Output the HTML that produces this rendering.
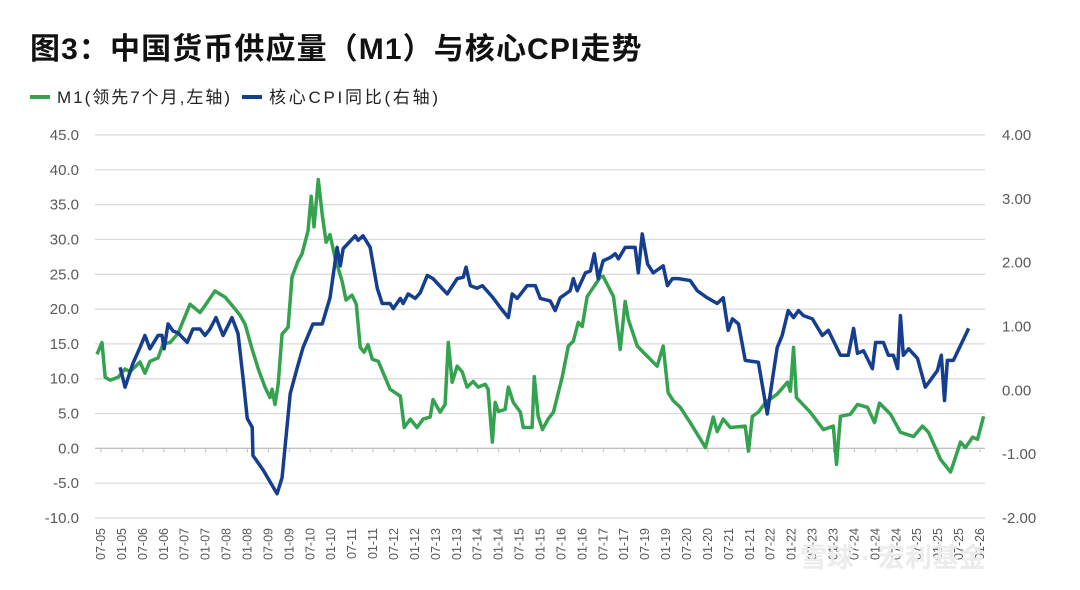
<!DOCTYPE html>
<html><head><meta charset="utf-8"><style>
body{margin:0;background:#fff;width:1080px;height:590px;overflow:hidden;font-family:"Liberation Sans","Noto Sans CJK SC",sans-serif}
#title{position:absolute;left:30px;top:24px;font-size:30px;font-weight:bold;color:#111;letter-spacing:1.1px}
svg{position:absolute;left:0;top:0}
</style></head><body>
<div id="title">图3：中国货币供应量（M1）与核心CPI走势</div>
<svg id="chart" width="1080" height="590"></svg>
<script>
const xLabels=["07-05","01-05","07-06","01-06","07-07","01-07","07-08","01-08","07-09","01-09","07-10","01-10","07-11","01-11","07-12","01-12","07-13","01-13","07-14","01-14","07-15","01-15","07-16","01-16","07-17","01-17","07-19","01-19","07-20","01-20","07-21","01-21","07-22","01-22","07-23","01-23","07-24","01-24","07-24","07-25","01-25","07-25","01-26"];
const leftTicks=[45,40,35,30,25,20,15,10,5,0,-5,-10];
const rightTicks=[4,3,2,1,0,-1,-2];
const m1Months=[0,1.4,2.3,3.7,5.9,7.9,9.3,12.1,13.5,14.9,17.2,18.6,20.6,22.8,26.2,29,30.4,33.2,36.1,38.9,40.3,41.7,43.7,45.4,47.3,48.7,49.3,50.1,51,52.1,53.8,54.9,56.6,57.7,59.4,60.3,61.1,62.3,63.4,64.5,65.6,67,69,70.1,71.8,73,74.1,75.2,76.3,77.5,79.2,81.1,82.5,85.4,86.5,88.2,90.1,91.8,93.8,94.6,96.6,98,98.9,100,101.4,102.8,104.2,105.9,107.3,109.3,110.1,111.3,112.1,113,114.9,115.8,117.2,119.2,120,122.5,123.1,124.2,125.4,127,128.5,131,132.7,134.1,135.5,136.6,138,141.7,142.5,145.4,147.3,148.7,149.6,152.1,153.8,157.7,159.4,160.8,162.3,164.2,167,169.9,171.3,173.5,174.6,176.3,178.3,182.5,183.4,184.5,186.2,188.2,191.5,194.4,195.2,196.1,196.9,200.8,204.5,207.3,208.2,209.3,212.1,214.1,216.9,218.9,220.3,223.4,226.2,229.9,232.4,234.1,237.5,240.3,243.1,244.5,246.5,247.9,249.6];
const m1Values=[13.5,15.2,10.2,9.8,10.2,11.4,11,12.4,10.8,12.5,13,15,15.2,16.5,20.7,19.5,20.5,22.6,21.7,20,19.1,17.8,14.2,11.4,8.8,7.3,8.5,6.3,9.2,16.4,17.4,24.6,26.9,27.9,31.2,36.2,31.8,38.6,33.6,29.6,30.7,27.4,24,21.3,22,20.7,14.5,13.8,14.9,12.8,12.5,10.2,8.5,7.5,3,4.2,3,4.2,4.5,7,5.2,6.3,15.2,9.5,11.8,11,8.8,9.6,8.8,9.2,8.5,0.9,6.6,5.3,5.6,8.8,6.6,5.2,3,3,10.3,4.6,2.7,4.2,5.2,10.3,14.7,15.4,18.1,17.5,21.8,24.6,24.7,21.8,14.2,21.1,18.5,14.7,13.8,11.8,14.7,8,6.8,5.9,3.7,1.3,0.1,4.5,2.4,4.2,3,3.2,-0.4,4.6,5.2,6.6,7.8,9.5,8.2,14.5,7.3,5.2,2.7,3.2,-2.3,4.6,4.9,6.3,5.9,3.7,6.5,4.9,2.3,1.7,3.2,2.3,-1.6,-3.4,0.9,0.1,1.6,1.3,4.6];
const cpiMonths=[6.5,7.9,10.1,12.1,13.5,14.9,17.2,18.3,18.9,20,21.4,22.8,25.4,27,29,30.4,31.8,33.5,35.5,38,39.7,41.1,42.3,43.7,43.9,46.8,50.7,52.1,54.4,56.3,58,60.8,63.4,65.6,67.6,68.5,69.3,72.7,73.5,74.9,76.9,78.9,80.3,82.5,83.4,85.4,86.2,87.6,89.6,91,93,94.6,98.6,101.4,103.1,103.9,105.1,107,108.5,111.5,113.5,115.8,116.9,118.3,121.1,123.4,124.8,127.6,129,130.4,133.2,134.1,135.2,137.5,138.9,140,141.1,142.5,144.5,145.9,146.8,148.7,151.5,152.4,153.5,155,156.6,159.4,160.6,162,163.7,167,169,171.8,174.6,176.3,177.7,178.9,180.6,182.5,186.2,188.7,191.5,192.9,194.6,196.1,197.5,198.9,201.4,204.2,205.9,209.3,211.5,213,214.1,215.8,218.3,219.2,221.4,222.8,224.2,225.4,226.2,227,228.5,231,233.2,236.6,237.7,238.6,239.4,241.1,245.4];
const cpiValues=[0.36,0.05,0.42,0.67,0.86,0.65,0.86,0.86,0.65,1.04,0.93,0.9,0.75,0.96,0.96,0.86,0.96,1.14,0.86,1.14,0.89,0.2,-0.44,-0.58,-1.02,-1.25,-1.62,-1.37,-0.05,0.34,0.67,1.04,1.04,1.45,2.24,1.95,2.22,2.42,2.35,2.42,2.24,1.6,1.36,1.36,1.28,1.44,1.36,1.51,1.44,1.53,1.8,1.75,1.51,1.75,1.77,1.93,1.64,1.6,1.64,1.45,1.3,1.14,1.51,1.44,1.64,1.64,1.44,1.4,1.25,1.45,1.56,1.75,1.56,1.84,1.87,2.14,1.75,2.03,2.08,2.14,2.06,2.24,2.24,1.84,2.45,1.98,1.84,1.95,1.64,1.75,1.75,1.72,1.56,1.45,1.36,1.45,0.94,1.12,1.04,0.47,0.44,-0.37,0.67,0.86,1.25,1.14,1.25,1.17,1.12,0.86,0.94,0.55,0.55,0.97,0.58,0.62,0.34,0.75,0.75,0.55,0.55,0.34,1.17,0.55,0.65,0.5,0.05,0.31,0.55,-0.16,0.47,0.47,0.97];

const NS="http://www.w3.org/2000/svg";
const svg=document.getElementById('chart');
const X0=97,X1=985,YT=135,YB=518;
const x=m=>X0+(X1-X0)*m/250;
const yL=v=>YT+(45-v)*(YB-YT)/55;
const yR=v=>YT+(4-v)*(YB-YT)/6;
function mk(t,a){const e=document.createElementNS(NS,t);for(const k in a)e.setAttribute(k,a[k]);svg.appendChild(e);return e;}

leftTicks.forEach(v=>{
  const g=mk('line',{x1:95,x2:985,y1:yL(v),y2:yL(v),stroke:'#d9d9d9','stroke-width':1.2});
  
  
  const t=mk('text',{x:79,y:yL(v)+5,'text-anchor':'end','font-size':15,fill:'#595959'});
  t.textContent=v.toFixed(1);
  
  
});
rightTicks.forEach(v=>{
  const t=mk('text',{x:1002,y:yR(v)+5,'font-size':15,fill:'#595959'});
  t.textContent=v.toFixed(2);
  
  
});
const ax=mk('line',{x1:95,x2:985,y1:yL(0),y2:yL(0),stroke:'#bfbfbf','stroke-width':1.2});


xLabels.forEach((l,i)=>{
  const px=101+i*(980-101)/(xLabels.length-1);
  const tk=mk('line',{x1:px,x2:px,y1:yL(0),y2:yL(0)+4,stroke:'#bfbfbf'});
  
  
  const t=mk('text',{x:0,y:0,'font-size':12.5,fill:'#595959','text-anchor':'end',transform:`translate(${px+4},528) rotate(-90)`});
  t.textContent=l;
  
  
});
const gp=mk('polyline',{points:m1Months.map((m,i)=>x(m)+','+yL(m1Values[i])).join(' '),fill:'none',stroke:'#35a24f','stroke-width':3.5,'stroke-linejoin':'round'});


const bp=mk('polyline',{points:cpiMonths.map((m,i)=>x(m)+','+yR(cpiValues[i])).join(' '),fill:'none',stroke:'#153e8f','stroke-width':3.5,'stroke-linejoin':'round'});



const l1=mk('line',{x1:30,x2:50,y1:97,y2:97,stroke:'#35a24f','stroke-width':4});


const t1=mk('text',{x:57,y:103,'font-size':17,fill:'#222',textLength:173,lengthAdjust:'spacing'});t1.textContent='M1(领先7个月,左轴)';


const l2=mk('line',{x1:242,x2:262,y1:97,y2:97,stroke:'#153e8f','stroke-width':4});


const t2=mk('text',{x:269,y:103,'font-size':17,fill:'#222',textLength:169,lengthAdjust:'spacing'});t2.textContent='核心CPI同比(右轴)';


const wm=mk('text',{x:800,y:567,'font-size':27,fill:'#ececec','font-weight':'bold'});wm.textContent='雪球 · 宏利基金';


</script>
</body></html>
